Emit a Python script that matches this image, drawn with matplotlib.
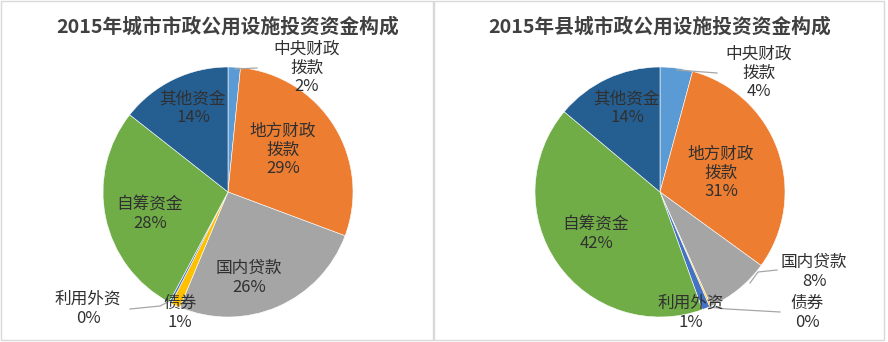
import matplotlib.pyplot as plt
from matplotlib.patches import Rectangle

plt.rcParams['font.family'] = ['Noto Sans CJK SC', 'DejaVu Sans']

# 资金来源（顺时针，自12点起）
sources = ['中央财政\n拨款', '地方财政\n拨款', '国内贷款', '债券', '利用外资', '自筹资金', '其他资金']
city_share = [1.6, 29.1, 25.6, 1.2, 0.3, 27.8, 14.4]
county_share = [4.2, 30.8, 8.3, 0.2, 1.0, 41.6, 13.9]
city_pct = ['2%', '29%', '26%', '1%', '0%', '28%', '14%']
county_pct = ['4%', '31%', '8%', '0%', '1%', '42%', '14%']
titles = ['2015年城市市政公用设施投资资金构成', '2015年县城市政公用设施投资资金构成']

colors = ['#5B9BD5', '#ED7D31', '#A5A5A5', '#FFC000', '#4472C4', '#70AD47', '#255E91']
W, H = 888, 342

# 标签位置（像素，y 向下）和引导线
city_labels = [(307, 68), (283, 150), (249, 278), (180, 313), (88, 309), (150, 214), (193, 108)]
county_labels = [(759, 73), (721, 173), (814, 272), (807, 313), (691, 313), (596, 234), (627, 108)]
city_leaders = {0: [(235, 69), (257, 68)], 4: [(168, 302), (160, 306), (130, 309)]}
county_leaders = {0: [(677, 70), (717, 73)],
                  2: [(750, 283), (758, 272), (777, 270)],
                  3: [(709, 307), (727, 309), (780, 312)]}

fig = plt.figure(figsize=(W / 100, H / 100), dpi=100)
ax = fig.add_axes([0, 0, 1, 1])

# 两个图表区边框
for x0, x1 in [(1, 433), (434, 884)]:
    ax.add_patch(Rectangle((x0, H - 340), x1 - x0, 339, facecolor='white',
                           edgecolor='#d9d9d9', linewidth=1, zorder=0))

panels = [
    (228, city_share, city_pct, city_labels, city_leaders, titles[0]),
    (660, county_share, county_pct, county_labels, county_leaders, titles[1]),
]

for cx, share, pct, labels, leaders, title in panels:
    ax.pie(share, colors=colors, startangle=90, counterclock=False,
           center=(cx, H - 192), radius=125,
           wedgeprops=dict(edgecolor='white', linewidth=0.4), frame=True)
    ax.text(cx, H - 27, title, ha='center', va='center', fontsize=14.2,
            fontweight='bold', color='#404040')
    for i, (name, p) in enumerate(zip(sources, pct)):
        lx, ly = labels[i]
        ax.text(lx, H - ly, name + '\n' + p, ha='center', va='center',
                fontsize=12, color='#303030', linespacing=1.15)
    for pts in leaders.values():
        ax.plot([p[0] for p in pts], [H - p[1] for p in pts],
                color='#a6a6a6', linewidth=0.9)

ax.set_xlim(0, W)
ax.set_ylim(0, H)
ax.set_aspect('auto')
ax.axis('off')

fig.savefig('out.png', dpi=100)
